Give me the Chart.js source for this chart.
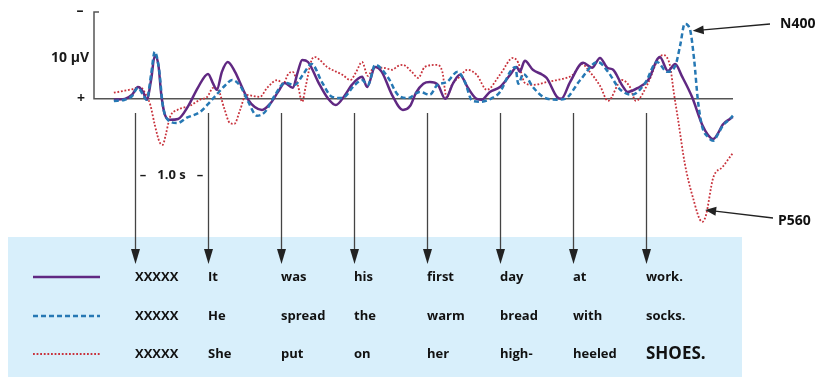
<!DOCTYPE html>
<html>
<head>
<meta charset="utf-8">
<script src="https://cdn.jsdelivr.net/npm/chart.js@4/dist/chart.umd.min.js"></script>
<style>
  body { margin: 0; background: #fff; }
  canvas { display: block; }
</style>
</head>
<body>
<canvas id="erp-chart" width="817" height="377"></canvas>
<script>
// word onsets in seconds (one word per second)
const onsets = [0, 1, 2, 3, 4, 5, 6, 7];
const wordsWork = ["XXXXX", "It", "was", "his", "first", "day", "at", "work."];
const wordsSocks = ["XXXXX", "He", "spread", "the", "warm", "bread", "with", "socks."];
const wordsShoes = ["XXXXX", "She", "put", "on", "her", "high-", "heeled", "SHOES."];

// ERP traces: time (s) and amplitude (µV, negative plotted up)
const tWork = [-0.29,-0.14,-0.04,0.04,0.11,0.16,0.22,0.27,0.32,0.36,0.41,0.48,0.59,0.73,0.86,1.00,1.07,1.12,1.19,1.27,1.37,1.47,1.55,1.64,1.74,1.85,1.96,2.05,2.16,2.23,2.29,2.37,2.51,2.64,2.75,2.88,2.97,3.11,3.18,3.29,3.38,3.52,3.67,3.77,3.85,3.95,4.04,4.15,4.25,4.36,4.45,4.56,4.68,4.75,4.86,5.00,5.14,5.23,5.27,5.34,5.45,5.58,5.64,5.78,5.84,5.96,6.14,6.26,6.37,6.47,6.55,6.67,6.75,6.89,7.03,7.19,7.30,7.40,7.49,7.63,7.77,7.85,7.92,7.99,8.05,8.15,8.19];
const vWork = [0.2,0,-1.0,-2.9,-1.7,0.2,-4.6,-10.5,-8.3,-1.0,3.9,5.1,4.9,1.7,-2.7,-6.1,-3.7,-2.2,-6.6,-9.0,-6.6,-2.7,0.2,2.0,2.7,1.2,-1.7,-3.9,-2.7,-6.6,-9.5,-9.0,-4.1,-0.2,1.5,-1.0,-3.4,-5.4,-2.9,-7.8,-6.6,-1.0,2.7,1.7,-1.5,-3.7,-4.1,-3.4,0,-3.9,-5.9,-2.7,0,0.2,-1.7,-2.9,-5.9,-7.8,-6.6,-9.3,-7.1,-5.9,-5.1,-0.5,0,-4.1,-8.8,-7.6,-10.0,-7.6,-7.1,-3.4,-1.7,-2.7,-4.6,-10.2,-6.8,-8.5,-5.6,-0.5,6.3,8.8,9.8,8.3,6.3,4.9,4.4];

const tSocks = [-0.29,-0.14,-0.04,0.04,0.11,0.16,0.22,0.27,0.33,0.38,0.45,0.58,0.71,0.89,1.03,1.14,1.23,1.33,1.44,1.55,1.67,1.78,1.92,2.05,2.19,2.30,2.42,2.56,2.70,2.84,3.01,3.11,3.19,3.29,3.47,3.60,3.74,3.90,4.04,4.14,4.27,4.42,4.52,4.62,4.73,4.89,5.00,5.14,5.21,5.25,5.32,5.45,5.59,5.78,5.89,6.10,6.34,6.48,6.64,6.81,6.99,7.15,7.29,7.40,7.47,7.53,7.60,7.66,7.71,7.77,7.85,7.92,7.99,8.05,8.15,8.19];
const vSocks = [0.5,0.2,-0.7,-2.7,-1.0,0.2,-5.9,-11.5,-7.1,1.5,5.1,5.9,4.6,3.2,0.7,-1.5,-3.2,-4.6,-3.2,0.7,4.1,3.2,-1.0,-3.9,-3.4,-5.9,-8.5,-4.1,-0.5,-0.2,-3.4,-4.6,-3.4,-8.3,-5.1,-1.0,-0.2,-1.7,-1.0,-3.4,-4.1,-6.6,-4.1,0.5,0.7,-0.2,-1.7,-6.6,-7.8,-3.7,-6.1,-2.9,-0.5,0.2,0,-4.6,-9.0,-6.6,-2.4,-1.0,-3.9,-9.0,-6.6,-8.0,-13.2,-18.3,-17.1,-9.5,0.2,6.8,9.3,10.2,8.5,6.6,4.9,4.1];

const tShoes = [-0.29,-0.14,-0.03,0.07,0.15,0.21,0.27,0.34,0.38,0.42,0.48,0.58,0.75,0.89,0.99,1.07,1.14,1.22,1.30,1.36,1.44,1.52,1.62,1.71,1.81,1.95,2.03,2.10,2.16,2.23,2.29,2.34,2.42,2.47,2.53,2.63,2.84,2.95,3.03,3.11,3.19,3.27,3.40,3.52,3.60,3.67,3.79,3.88,3.97,4.14,4.21,4.27,4.34,4.45,4.55,4.68,4.82,5.00,5.18,5.25,5.34,5.45,5.64,5.78,6.00,6.12,6.23,6.37,6.48,6.67,6.78,6.86,7.03,7.16,7.23,7.33,7.38,7.44,7.53,7.64,7.77,7.82,7.92,8.05,8.19];
const vShoes = [-1.5,-2.0,-2.4,-2.9,-1.0,1.5,6.3,10.7,11.2,8.8,4.4,2.7,1.7,0.2,-0.5,-2.7,-2.2,2.2,5.9,6.1,2.7,-1.0,-0.7,-0.5,-2.7,-4.6,-3.7,-6.1,-6.6,-3.4,0.7,-3.2,-9.5,-10.2,-9.5,-7.8,-5.9,-4.6,-6.6,-9.0,-5.6,-7.6,-7.6,-7.1,-8.0,-8.3,-6.6,-5.1,-7.8,-8.3,-6.6,-0.2,-3.4,-5.4,-7.1,-5.9,-2.2,-5.9,-10.0,-8.8,-3.9,-3.4,-4.1,-4.6,-5.9,-8.5,-6.6,-3.2,0.5,-4.6,-2.9,0.5,-3.9,-9.5,-10.7,-8.0,-1.7,5.1,15.6,23.9,30.0,28.5,19.3,16.6,13.2];

function pts(ts, vs) {
  return ts.map((t, i) => ({ x: t, y: vs[i] }));
}

const FONT = '"Open Sans", "DejaVu Sans", sans-serif';

function arrowHead(ctx, x0, y0, x1, y1, len, half) {
  const a = Math.atan2(y1 - y0, x1 - x0);
  ctx.beginPath();
  ctx.moveTo(x1, y1);
  ctx.lineTo(x1 - len * Math.cos(a) + half * Math.sin(a), y1 - len * Math.sin(a) - half * Math.cos(a));
  ctx.lineTo(x1 - len * Math.cos(a) - half * Math.sin(a), y1 - len * Math.sin(a) + half * Math.cos(a));
  ctx.closePath();
  ctx.fill();
}

const decor = {
  id: "decor",
  beforeDraw(chart) {
    const ctx = chart.ctx;
    ctx.save();
    ctx.fillStyle = "rgb(216,239,251)";
    ctx.fillRect(8, 237, 734, 140);
    ctx.restore();
  },
  beforeDatasetsDraw(chart) {
    const ctx = chart.ctx, xs = chart.scales.x, ys = chart.scales.y;
    const x0 = xs.left, y0 = ys.getPixelForValue(0), yTop = ys.top;
    ctx.save();
    // axes
    ctx.strokeStyle = "#555";
    ctx.lineWidth = 1.5;
    ctx.beginPath();
    ctx.moveTo(x0 + 5, yTop); ctx.lineTo(x0, yTop); ctx.lineTo(x0, y0); ctx.lineTo(xs.right, y0);
    ctx.stroke();
    ctx.fillStyle = "#1a1a1a";
    ctx.font = "bold 14px " + FONT;
    ctx.textBaseline = "middle";
    ctx.textAlign = "center";
    ctx.fillText("–", 80, yTop - 1);
    ctx.fillText("+", 81, y0);
    ctx.textAlign = "right";
    ctx.fillText("10 µV", 89, ys.getPixelForValue(-10));

    // onset arrows
    ctx.strokeStyle = "#444";
    ctx.fillStyle = "#222";
    ctx.lineWidth = 1.3;
    onsets.forEach(t => {
      const x = Math.round(xs.getPixelForValue(t)) + 0.5;
      ctx.beginPath();
      ctx.moveTo(x, 113); ctx.lineTo(x, 255);
      ctx.stroke();
      arrowHead(ctx, x, 113, x, 264, 15, 4.5);
    });

    // 1.0 s scale
    const xa = xs.getPixelForValue(onsets[0]), xb = xs.getPixelForValue(onsets[1]);
    ctx.fillStyle = "#1a1a1a";
    ctx.font = "bold 13px " + FONT;
    ctx.textAlign = "center";
    ctx.fillText("–", xa + 8, 175);
    ctx.fillText("1.0 s", (xa + xb) / 2, 175);
    ctx.fillText("–", xb - 8, 175);
    ctx.restore();
  },
  afterDatasetsDraw(chart) {
    const ctx = chart.ctx, xs = chart.scales.x, ys = chart.scales.y;
    ctx.save();
    // legend samples and sentences
    const rows = [wordsWork, wordsSocks, wordsShoes];
    const rowY = [277, 316, 354];
    chart.data.datasets.forEach((ds, i) => {
      ctx.strokeStyle = ds.borderColor;
      ctx.lineWidth = ds.borderWidth;
      ctx.setLineDash(ds.borderDash || []);
      ctx.beginPath();
      ctx.moveTo(33, rowY[i]); ctx.lineTo(100, rowY[i]);
      ctx.stroke();
    });
    ctx.setLineDash([]);
    ctx.fillStyle = "#111";
    ctx.textBaseline = "middle";
    ctx.textAlign = "left";
    rows.forEach((words, r) => {
      words.forEach((w, k) => {
        ctx.font = (w === "SHOES." ? "bold 17px " : "bold 13px ") + FONT;
        ctx.fillText(w, xs.getPixelForValue(onsets[k]), rowY[r]);
      });
    });

    // component labels
    ctx.strokeStyle = "#222";
    ctx.fillStyle = "#222";
    ctx.lineWidth = 1.3;
    const n4 = [xs.getPixelForValue(7.64), ys.getPixelForValue(-16.6)];
    const p5 = [xs.getPixelForValue(7.81), ys.getPixelForValue(27.1)];
    [[770, 24, n4], [773, 218, p5]].forEach(([tx, ty, tip]) => {
      ctx.beginPath();
      ctx.moveTo(tx, ty); ctx.lineTo(tip[0] + 8, tip[1] + (ty - tip[1]) * 8 / (tx - tip[0]));
      ctx.stroke();
      arrowHead(ctx, tx, ty, tip[0], tip[1], 11, 4.5);
    });
    ctx.fillStyle = "#111";
    ctx.font = "bold 14px " + FONT;
    ctx.fillText("N400", 780, 24);
    ctx.fillText("P560", 778, 221);
    ctx.restore();
  }
};

new Chart("erp-chart", {
  type: "line",
  data: {
    datasets: [
      {
        label: "It was his first day at work.",
        data: pts(tWork, vWork),
        borderColor: "rgb(96,40,130)",
        borderWidth: 2.5,
        order: 2
      },
      {
        label: "He spread the warm bread with socks.",
        data: pts(tSocks, vSocks),
        borderColor: "rgb(38,120,180)",
        borderWidth: 2.5,
        borderDash: [5, 3],
        order: 1
      },
      {
        label: "She put on her high-heeled SHOES.",
        data: pts(tShoes, vShoes),
        borderColor: "rgb(200,50,60)",
        borderWidth: 1.8,
        borderDash: [1.8, 1.8],
        order: 3
      }
    ]
  },
  options: {
    responsive: false,
    animation: false,
    layout: { padding: { left: 94, right: 84, top: 12, bottom: 147 } },
    elements: {
      point: { radius: 0 },
      line: { tension: 0.4, cubicInterpolationMode: "monotone", fill: false }
    },
    datasets: { line: { clip: false } },
    scales: {
      x: { type: "linear", min: -0.562, max: 8.192, display: false },
      y: { min: -21.2, max: 32, reverse: true, display: false }
    },
    plugins: { legend: { display: false }, tooltip: { enabled: false } }
  },
  plugins: [decor]
});
</script>
</body>
</html>
